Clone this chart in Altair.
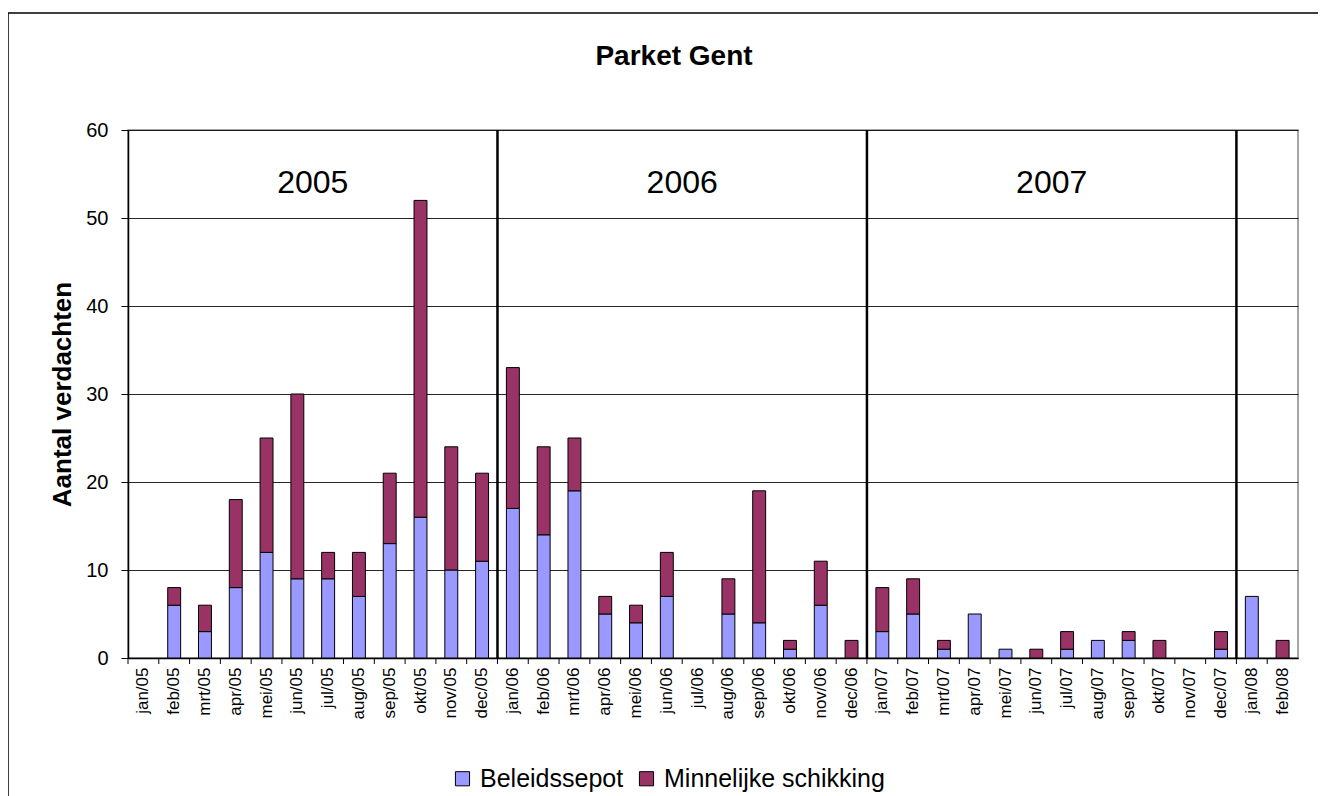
import altair as alt
import pandas as pd

months = ["jan/05","feb/05","mrt/05","apr/05","mei/05","jun/05","jul/05","aug/05","sep/05","okt/05","nov/05","dec/05",
          "jan/06","feb/06","mrt/06","apr/06","mei/06","jun/06","jul/06","aug/06","sep/06","okt/06","nov/06","dec/06",
          "jan/07","feb/07","mrt/07","apr/07","mei/07","jun/07","jul/07","aug/07","sep/07","okt/07","nov/07","dec/07",
          "jan/08","feb/08"]
beleidssepot = [0,6,3,8,12,9,9,7,13,16,10,11,
                17,14,19,5,4,7,0,5,4,1,6,0,
                3,5,1,5,1,0,1,2,2,0,0,1,
                7,0]
minnelijke = [0,2,3,10,13,21,3,5,8,36,14,10,
              16,10,6,2,2,5,0,4,15,1,5,2,
              5,4,1,0,0,1,2,0,1,2,0,2,
              0,2]
series_names = ["Beleidssepot", "Minnelijke schikking"]
series_colors = ["#9999FF", "#993366"]
year_labels = ["2005", "2006", "2007"]
year_anchor = ["jul/05", "jul/06", "jul/07"]
year_label_y = [54, 54, 54]
separator_months = ["jan/06", "jan/07", "jan/08"]
chart_title = "Parket Gent"

rows = []
for i, m in enumerate(months):
    rows.append({"month": m, "series": series_names[0], "value": beleidssepot[i], "ord": 0})
    rows.append({"month": m, "series": series_names[1], "value": minnelijke[i], "ord": 1})
df = pd.DataFrame(rows)
years_df = pd.DataFrame({"month": year_anchor, "label": year_labels, "y": year_label_y})
sep_df = pd.DataFrame({"month": separator_months, "y0": [0]*3, "y1": [60]*3})
tick_df = pd.DataFrame({"month": months})
title_df = pd.DataFrame({"t": [chart_title]})

FONT = "Liberation Sans"
W, H = 1170, 528

xscale = alt.Scale(domain=months, paddingInner=0, paddingOuter=0)
yscale = alt.Scale(domain=[0, 60])

bars = alt.Chart(df).transform_filter("datum.value > 0").mark_bar(
    width=alt.RelativeBandSize(0.42), stroke="black", strokeWidth=1).encode(
    x=alt.X("month:N", scale=xscale, sort=months, title=None,
            axis=alt.Axis(labelAngle=-90, labelFontSize=17, labelFont=FONT, labelColor="black",
                          ticks=False, domainColor="black", labelPadding=9)),
    y=alt.Y("value:Q", stack="zero", scale=yscale, title="Aantal verdachten",
            axis=alt.Axis(values=[0, 10, 20, 30, 40, 50, 60], labelFontSize=20, labelFont=FONT,
                          labelColor="black", titleFontSize=26, titleFont=FONT, titleFontWeight="bold",
                          titleColor="black", titlePadding=10, tickColor="black", tickSize=7,
                          domainColor="black", gridColor="black", gridOpacity=0.85, labelPadding=13)),
    color=alt.Color("series:N", scale=alt.Scale(domain=series_names, range=series_colors),
                    legend=alt.Legend(title=None, orient="none", direction="horizontal",
                                      legendX=322, legendY=636, labelFontSize=25, labelFont=FONT,
                                      labelColor="black", symbolType="square", symbolSize=200,
                                      symbolStrokeColor="black", symbolStrokeWidth=1, labelLimit=0,
                                      symbolOpacity=1, columnPadding=10, labelOffset=5)),
    order=alt.Order("ord:Q"),
)

xticks = alt.Chart(tick_df).mark_rule(color="black", strokeWidth=1).encode(
    x=alt.X("month:N", scale=xscale, sort=months, bandPosition=0),
    y=alt.value(H), y2=alt.value(H + 6),
)

seps = alt.Chart(sep_df).mark_rule(color="black", strokeWidth=2.5).encode(
    x=alt.X("month:N", scale=xscale, sort=months, bandPosition=0),
    y=alt.Y("y0:Q", scale=yscale), y2="y1:Q",
)

years = alt.Chart(years_df).mark_text(fontSize=32, font=FONT, color="black", baseline="middle").encode(
    x=alt.X("month:N", scale=xscale, sort=months, bandPosition=0),
    y=alt.Y("y:Q", scale=yscale),
    text="label:N",
)

title = alt.Chart(title_df).mark_text(fontSize=28, font=FONT, fontWeight="bold", color="black",
                                      baseline="middle").encode(
    x=alt.value(W / 2 - 39), y=alt.value(-73), text="t:N",
)

frame = alt.Chart(title_df).mark_rect(fill=None, stroke="black", strokeWidth=1.5).encode(
    x=alt.value(-120), x2=alt.value(W + 80), y=alt.value(-117), y2=alt.value(H + 200),
)

chart = alt.layer(frame, bars, xticks, seps, years, title).properties(
    width=W, height=H,
    autosize=alt.AutoSizeParams(type="none"),
    padding={"left": 120, "top": 122, "right": 20, "bottom": 140},
).configure_view(stroke="#888888", strokeWidth=1.5).configure_axis(domainWidth=1.5)

chart.save("out.html", embed_options={"renderer": "svg", "actions": False})
